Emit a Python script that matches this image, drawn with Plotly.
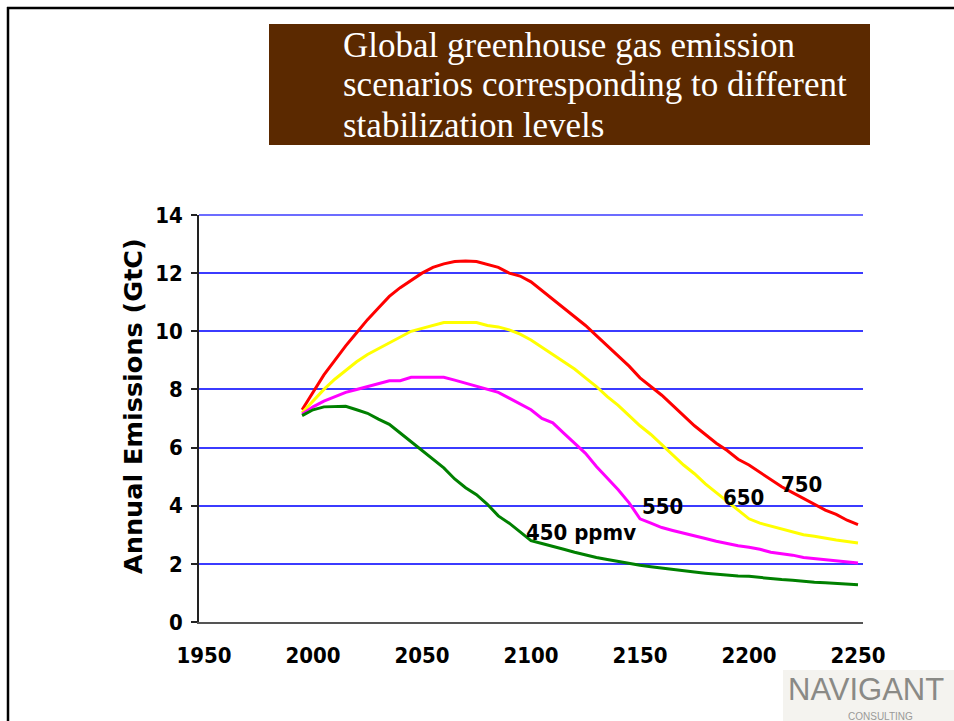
import plotly.graph_objects as go

# ---- data -------------------------------------------------------------
years = [1995, 2000, 2005, 2010, 2015, 2020, 2025, 2030, 2035, 2040,
         2045, 2050, 2055, 2060, 2065, 2070, 2075, 2080, 2085, 2090,
         2095, 2100, 2105, 2110, 2115, 2120, 2125, 2130, 2135, 2140,
         2145, 2150, 2155, 2160, 2165, 2170, 2175, 2180, 2185, 2190,
         2195, 2200, 2205, 2210, 2215, 2220, 2225, 2230, 2235, 2240,
         2245, 2250]

ppmv_750 = [7.3, 7.9, 8.5, 9.0, 9.5, 9.95, 10.4, 10.8, 11.2, 11.5,
            11.75, 12.0, 12.2, 12.32, 12.4, 12.42, 12.4, 12.3, 12.2, 12.0,
            11.9, 11.7, 11.4, 11.1, 10.8, 10.5, 10.2, 9.85, 9.5, 9.15,
            8.8, 8.4, 8.1, 7.8, 7.45, 7.1, 6.75, 6.45, 6.15, 5.9,
            5.6, 5.4, 5.15, 4.9, 4.65, 4.45, 4.25, 4.05, 3.85, 3.7,
            3.5, 3.35]

ppmv_650 = [7.2, 7.6, 8.0, 8.35, 8.65, 8.95, 9.2, 9.4, 9.6, 9.8,
            10.0, 10.1, 10.2, 10.3, 10.3, 10.3, 10.3, 10.2, 10.15, 10.05,
            9.9, 9.7, 9.45, 9.2, 8.95, 8.7, 8.4, 8.1, 7.75, 7.45,
            7.1, 6.75, 6.45, 6.1, 5.75, 5.4, 5.1, 4.75, 4.45, 4.15,
            3.85, 3.55, 3.4, 3.3, 3.2, 3.1, 3.0, 2.95, 2.88, 2.82,
            2.77, 2.72]

ppmv_550 = [7.15, 7.4, 7.6, 7.75, 7.9, 8.0, 8.1, 8.2, 8.3, 8.3,
            8.42, 8.42, 8.42, 8.42, 8.32, 8.22, 8.12, 8.0, 7.9, 7.7,
            7.5, 7.3, 7.0, 6.85, 6.5, 6.15, 5.8, 5.35, 4.95, 4.55,
            4.1, 3.55, 3.4, 3.25, 3.15, 3.05, 2.95, 2.87, 2.78, 2.7,
            2.62, 2.57, 2.5, 2.4, 2.35, 2.3, 2.22, 2.18, 2.13, 2.09,
            2.06, 2.03]

ppmv_450 = [7.1, 7.3, 7.4, 7.42, 7.42, 7.3, 7.18, 6.98, 6.8, 6.5,
            6.2, 5.9, 5.58, 5.3, 4.92, 4.62, 4.38, 4.05, 3.65, 3.4,
            3.1, 2.8, 2.7, 2.59, 2.5, 2.4, 2.3, 2.22, 2.15, 2.08,
            2.02, 1.95, 1.9, 1.85, 1.8, 1.76, 1.72, 1.68, 1.64, 1.6,
            1.58, 1.57, 1.53, 1.49, 1.46, 1.44, 1.4, 1.37, 1.35, 1.33,
            1.31, 1.28]

x_ticks = [1950, 2000, 2050, 2100, 2150, 2200, 2250]
y_ticks = [0, 2, 4, 6, 8, 10, 12, 14]

series_names = ["750", "650", "550", "450 ppmv"]
series_colors = ["#ff0000", "#ffff00", "#ff00ff", "#008000"]
series_values = [ppmv_750, ppmv_650, ppmv_550, ppmv_450]
# left-edge anchor points (year, value) for the in-chart series labels
label_points = [(2213.6, 4.72), (2187.3, 4.27), (2149.8, 3.96), (2096.8, 3.09)]

title_lines = ["Global greenhouse gas emission",
               "scenarios corresponding to different",
               "stabilization levels"]

# ---- page geometry (pixels) -----------------------------------------
W, H = 954, 721
PL, PR, PT, PB = 199, 863, 215, 622


def fx(px):
    return (px - PL) / (PR - PL)


def fy(py):
    return (PB - py) / (PB - PT)


TICK_FONT = dict(family="DejaVu Sans Condensed, DejaVu Sans", size=22,
                 color="#000000", weight="bold")
GRID_COLOR = "#3b3bff"

fig = go.Figure()
for name, color, vals in zip(series_names, series_colors, series_values):
    fig.add_trace(go.Scatter(x=years, y=vals, mode="lines", name=name,
                             line=dict(color=color, width=3),
                             hoverinfo="x+y+name"))

annotations = []
for name, (lx, ly) in zip(series_names, label_points):
    annotations.append(dict(x=lx, y=ly, xref="x", yref="y", text=name,
                            showarrow=False, font=TICK_FONT,
                            xanchor="left", yanchor="middle"))

# y-axis title
annotations.append(dict(x=fx(133), y=fy(406), xref="paper", yref="paper",
                        text="Annual Emissions (GtC)", textangle=-90,
                        showarrow=False, xanchor="center", yanchor="middle",
                        font=dict(family="DejaVu Sans", size=25.5,
                                  color="#000000", weight="bold")))

# slide heading inside the brown box
for i, line in enumerate(title_lines):
    annotations.append(dict(x=fx(341), y=fy(45 + 40 * i), xref="paper",
                            yref="paper", text=line, showarrow=False,
                            xanchor="left", yanchor="middle",
                            font=dict(family="Liberation Serif", size=35,
                                      color="#ffffff")))

# company mark, bottom right
annotations.append(dict(x=fx(866), y=fy(689), xref="paper", yref="paper",
                        text="NAVIGANT", showarrow=False, xanchor="center",
                        yanchor="middle",
                        font=dict(family="Liberation Sans", size=31,
                                  color="#8a8a86")))
annotations.append(dict(x=fx(880), y=fy(716), xref="paper", yref="paper",
                        text="CONSULTING", showarrow=False, xanchor="center",
                        yanchor="middle",
                        font=dict(family="Liberation Sans", size=10,
                                  color="#9a9a98")))

shapes = [
    # slide frame: top and left rules
    dict(type="line", xref="paper", yref="paper", x0=fx(7), x1=fx(W + 5),
         y0=fy(8), y1=fy(8), line=dict(color="#000000", width=2.5)),
    dict(type="line", xref="paper", yref="paper", x0=fx(8), x1=fx(8),
         y0=fy(7), y1=fy(H + 5), line=dict(color="#000000", width=2.5)),
    # heading box
    dict(type="rect", xref="paper", yref="paper", x0=fx(269), x1=fx(870),
         y0=fy(24), y1=fy(145), fillcolor="#5b2900", line=dict(width=0),
         layer="below"),
    # backdrop of the company mark
    dict(type="rect", xref="paper", yref="paper", x0=fx(783), x1=fx(W + 5),
         y0=fy(670), y1=fy(H + 5), fillcolor="#f4f3ef", line=dict(width=0),
         layer="below"),
    # gridline along the top edge of the plot (axis maximum)
    dict(type="line", xref="paper", yref="paper", x0=0, x1=1, y0=1, y1=1,
         line=dict(color=GRID_COLOR, width=1.5), layer="above"),
]

fig.update_layout(
    width=W, height=H,
    margin=dict(l=PL, r=W - PR, t=PT, b=H - PB, pad=0),
    paper_bgcolor="#ffffff", plot_bgcolor="#ffffff",
    showlegend=False,
    annotations=annotations,
    shapes=shapes,
    xaxis=dict(range=[1947.7, 2252.3], tickvals=x_ticks,
               ticktext=[str(v) for v in x_ticks],
               showgrid=False, zeroline=False, showline=True,
               linecolor="#555555", linewidth=1.5, ticks="",
               tickfont=TICK_FONT, ticklabelstandoff=13),
    yaxis=dict(range=[0, 14], tickvals=y_ticks,
               ticktext=[str(v) for v in y_ticks],
               showgrid=True, gridcolor=GRID_COLOR, gridwidth=1.5,
               zeroline=False, showline=True, linecolor="#222222",
               linewidth=1.5, ticks="outside", ticklen=6,
               tickcolor="#222222", tickwidth=1.5,
               tickfont=TICK_FONT, ticklabelstandoff=4),
)

fig.write_html("out.html")
